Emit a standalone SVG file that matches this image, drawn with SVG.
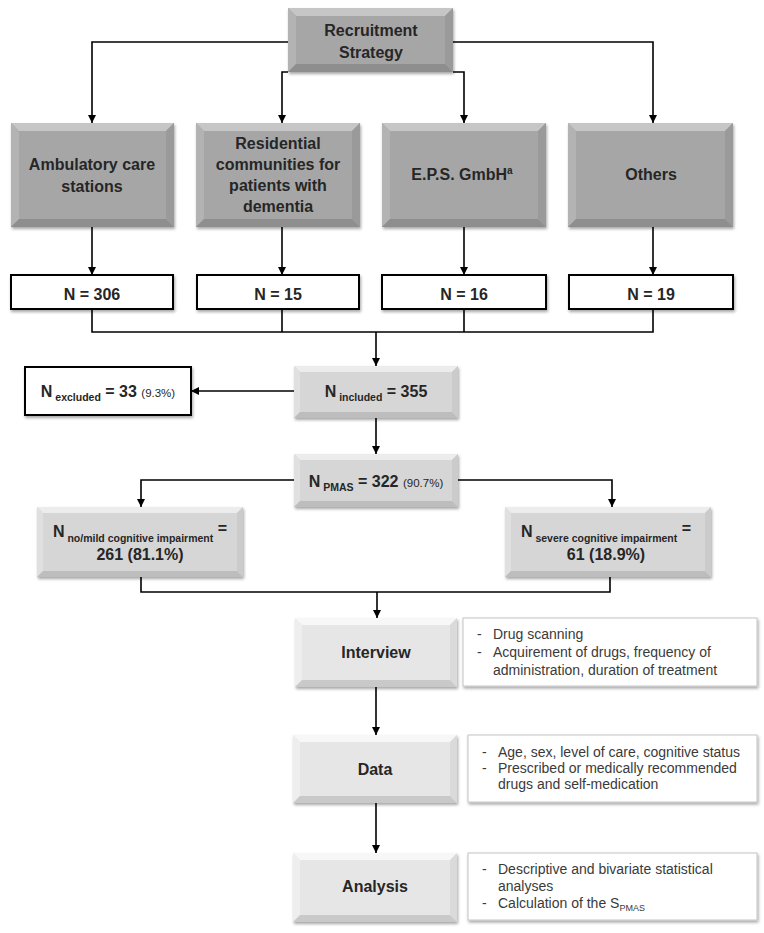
<svg xmlns="http://www.w3.org/2000/svg" width="764" height="933" viewBox="0 0 764 933">
<defs>
<marker id="ah" markerUnits="userSpaceOnUse" markerWidth="9" markerHeight="9" refX="8" refY="4" orient="auto">
<path d="M0,0 L8,4 L0,8 z" fill="#000"/>
</marker>
<filter id="sh" x="-10%" y="-10%" width="125%" height="135%">
<feDropShadow dx="1" dy="2" stdDeviation="1.5" flood-color="#000" flood-opacity="0.35"/>
</filter>
<style>
.lbl{font-family:"Liberation Sans",Arial,sans-serif;font-weight:bold;font-size:16px;fill:#262626;text-anchor:middle}
.sub{font-size:10.5px}
.pct{font-size:11.5px;font-weight:normal}
.note{font-family:"Liberation Sans",Arial,sans-serif;font-size:14px;fill:#3a3a3a}
.con{fill:none;stroke:#000;stroke-width:1.6}
.dk-f{fill:#a6a6a6}.dk-t{fill:#c6c6c6}.dk-l{fill:#b3b3b3}.dk-r{fill:#9a9a9a}.dk-b{fill:#8e8e8e}
.lt-f{fill:#d6d6d6}.lt-t{fill:#ececec}.lt-l{fill:#e0e0e0}.lt-r{fill:#cbcbcb}.lt-b{fill:#bdbdbd}
.xl-f{fill:#e6e6e6}.xl-t{fill:#f7f7f7}.xl-l{fill:#eeeeee}.xl-r{fill:#dadada}.xl-b{fill:#c9c9c9}
.wbox{fill:#fff;stroke:#000;stroke-width:2}
.nbox{fill:#fff;stroke:#c4c4c4;stroke-width:1}
</style>
</defs>
<rect width="764" height="933" fill="#fff"/>

<g id="connectors">
<path class="con" d="M288,42 H92 V123" marker-end="url(#ah)"/>
<path class="con" d="M453,42 H653 V123" marker-end="url(#ah)"/>
<path class="con" d="M288,72 H282 V123" marker-end="url(#ah)"/>
<path class="con" d="M453,72 H464 V123" marker-end="url(#ah)"/>
<path class="con" d="M92,227 V275" marker-end="url(#ah)"/>
<path class="con" d="M282,227 V275" marker-end="url(#ah)"/>
<path class="con" d="M464,227 V275" marker-end="url(#ah)"/>
<path class="con" d="M653,227 V275" marker-end="url(#ah)"/>
<path class="con" d="M92,309 V332 H653 V309 M282,309 V332 M464,309 V332"/>
<path class="con" d="M376,332 V366" marker-end="url(#ah)"/>
<path class="con" d="M294,391 H191" marker-end="url(#ah)"/>
<path class="con" d="M376,418 V454" marker-end="url(#ah)"/>
<path class="con" d="M294,480 H141 V507" marker-end="url(#ah)"/>
<path class="con" d="M458,480 H612 V507" marker-end="url(#ah)"/>
<path class="con" d="M141,577 V592 H610 V577"/>
<path class="con" d="M377,592 V618" marker-end="url(#ah)"/>
<path class="con" d="M376,687 V735" marker-end="url(#ah)"/>
<path class="con" d="M376,803 V853" marker-end="url(#ah)"/>
</g>

<g id="recruitment">
<g filter="url(#sh)"><rect class="dk-f" x="288" y="8" width="165" height="64"/></g>
<polygon class="dk-t" points="288,8 453,8 445,16 296,16"/>
<polygon class="dk-l" points="288,8 296,16 296,64 288,72"/>
<polygon class="dk-r" points="453,8 453,72 445,64 445,16"/>
<polygon class="dk-b" points="288,72 453,72 445,64 296,64"/>
<text class="lbl" x="371" y="36">Recruitment</text>
<text class="lbl" x="371" y="58">Strategy</text>
</g>

<g id="ambulatory">
<g filter="url(#sh)"><rect class="dk-f" x="11" y="123" width="163" height="104"/></g>
<polygon class="dk-t" points="11,123 174,123 166,131 19,131"/>
<polygon class="dk-l" points="11,123 19,131 19,219 11,227"/>
<polygon class="dk-r" points="174,123 174,227 166,219 166,131"/>
<polygon class="dk-b" points="11,227 174,227 166,219 19,219"/>
<text class="lbl" x="92" y="170">Ambulatory care</text>
<text class="lbl" x="92" y="192">stations</text>
</g>

<g id="residential">
<g filter="url(#sh)"><rect class="dk-f" x="196" y="123" width="164" height="104"/></g>
<polygon class="dk-t" points="196,123 360,123 352,131 204,131"/>
<polygon class="dk-l" points="196,123 204,131 204,219 196,227"/>
<polygon class="dk-r" points="360,123 360,227 352,219 352,131"/>
<polygon class="dk-b" points="196,227 360,227 352,219 204,219"/>
<text class="lbl" x="278" y="149">Residential</text>
<text class="lbl" x="278" y="170">communities for</text>
<text class="lbl" x="278" y="191">patients with</text>
<text class="lbl" x="278" y="212">dementia</text>
</g>

<g id="eps">
<g filter="url(#sh)"><rect class="dk-f" x="382" y="123" width="164" height="104"/></g>
<polygon class="dk-t" points="382,123 546,123 538,131 390,131"/>
<polygon class="dk-l" points="382,123 390,131 390,219 382,227"/>
<polygon class="dk-r" points="546,123 546,227 538,219 538,131"/>
<polygon class="dk-b" points="382,227 546,227 538,219 390,219"/>
<text class="lbl" x="462" y="180">E.P.S. GmbH<tspan font-size="10" dy="-6">a</tspan></text>
</g>

<g id="others">
<g filter="url(#sh)"><rect class="dk-f" x="568" y="123" width="165" height="104"/></g>
<polygon class="dk-t" points="568,123 733,123 725,131 576,131"/>
<polygon class="dk-l" points="568,123 576,131 576,219 568,227"/>
<polygon class="dk-r" points="733,123 733,227 725,219 725,131"/>
<polygon class="dk-b" points="568,227 733,227 725,219 576,219"/>
<text class="lbl" x="651" y="180">Others</text>
</g>

<g id="n306">
<rect class="wbox" x="11" y="275" width="162" height="34" filter="url(#sh)"/>
<text class="lbl" x="92" y="300">N = 306</text>
</g>
<g id="n15">
<rect class="wbox" x="197" y="275" width="162" height="34" filter="url(#sh)"/>
<text class="lbl" x="278" y="300">N = 15</text>
</g>
<g id="n16">
<rect class="wbox" x="382" y="275" width="164" height="34" filter="url(#sh)"/>
<text class="lbl" x="464" y="300">N = 16</text>
</g>
<g id="n19">
<rect class="wbox" x="569" y="275" width="164" height="34" filter="url(#sh)"/>
<text class="lbl" x="651" y="300">N = 19</text>
</g>

<g id="excluded">
<rect class="wbox" x="25" y="367" width="166" height="48" filter="url(#sh)"/>
<text class="lbl" x="108" y="397">N<tspan class="sub" dy="4"> excluded</tspan><tspan dy="-4"> = 33 </tspan><tspan class="pct">(9.3%)</tspan></text>
</g>

<g id="included">
<g filter="url(#sh)"><rect class="lt-f" x="294" y="366" width="164" height="52"/></g>
<polygon class="lt-t" points="294,366 458,366 452,372 300,372"/>
<polygon class="lt-l" points="294,366 300,372 300,412 294,418"/>
<polygon class="lt-r" points="458,366 458,418 452,412 452,372"/>
<polygon class="lt-b" points="294,418 458,418 452,412 300,412"/>
<text class="lbl" x="376" y="397">N<tspan class="sub" dy="4"> included</tspan><tspan dy="-4"> = 355</tspan></text>
</g>

<g id="pmas">
<g filter="url(#sh)"><rect class="lt-f" x="294" y="454" width="164" height="53"/></g>
<polygon class="lt-t" points="294,454 458,454 452,460 300,460"/>
<polygon class="lt-l" points="294,454 300,460 300,501 294,507"/>
<polygon class="lt-r" points="458,454 458,507 452,501 452,460"/>
<polygon class="lt-b" points="294,507 458,507 452,501 300,501"/>
<text class="lbl" x="376" y="487">N<tspan class="sub" dy="4"> PMAS</tspan><tspan dy="-4"> = 322 </tspan><tspan class="pct">(90.7%)</tspan></text>
</g>

<g id="mild">
<g filter="url(#sh)"><rect class="lt-f" x="37" y="507" width="206" height="70"/></g>
<polygon class="lt-t" points="37,507 243,507 237,513 43,513"/>
<polygon class="lt-l" points="37,507 43,513 43,571 37,577"/>
<polygon class="lt-r" points="243,507 243,577 237,571 237,513"/>
<polygon class="lt-b" points="37,577 243,577 237,571 43,571"/>
<text class="lbl" x="140" y="537">N<tspan class="sub" dy="5"> no/mild cognitive impairment</tspan><tspan dy="-8"> =</tspan></text>
<text class="lbl" x="140" y="560">261 (81.1%)</text>
</g>

<g id="severe">
<g filter="url(#sh)"><rect class="lt-f" x="505" y="507" width="206" height="70"/></g>
<polygon class="lt-t" points="505,507 711,507 705,513 511,513"/>
<polygon class="lt-l" points="505,507 511,513 511,571 505,577"/>
<polygon class="lt-r" points="711,507 711,577 705,571 705,513"/>
<polygon class="lt-b" points="505,577 711,577 705,571 511,571"/>
<text class="lbl" x="606" y="537">N<tspan class="sub" dy="5"> severe cognitive impairment</tspan><tspan dy="-8"> =</tspan></text>
<text class="lbl" x="606" y="560">61 (18.9%)</text>
</g>

<g id="interview">
<g filter="url(#sh)"><rect class="xl-f" x="295" y="618" width="162" height="69"/></g>
<polygon class="xl-t" points="295,618 457,618 450,625 302,625"/>
<polygon class="xl-l" points="295,618 302,625 302,680 295,687"/>
<polygon class="xl-r" points="457,618 457,687 450,680 450,625"/>
<polygon class="xl-b" points="295,687 457,687 450,680 302,680"/>
<text class="lbl" x="376" y="658">Interview</text>
</g>
<g id="interview-note">
<rect class="nbox" x="463" y="618" width="294" height="68" filter="url(#sh)"/>
<text class="note" x="477" y="639">-</text><text class="note" x="493" y="639">Drug scanning</text>
<text class="note" x="477" y="657">-</text><text class="note" x="493" y="657">Acquirement of drugs, frequency of</text>
<text class="note" x="493" y="675">administration, duration of treatment</text>
</g>

<g id="data">
<g filter="url(#sh)"><rect class="xl-f" x="293" y="735" width="164" height="68"/></g>
<polygon class="xl-t" points="293,735 457,735 450,742 300,742"/>
<polygon class="xl-l" points="293,735 300,742 300,796 293,803"/>
<polygon class="xl-r" points="457,735 457,803 450,796 450,742"/>
<polygon class="xl-b" points="293,803 457,803 450,796 300,796"/>
<text class="lbl" x="375" y="775">Data</text>
</g>
<g id="data-note">
<rect class="nbox" x="468" y="735" width="289" height="67" filter="url(#sh)"/>
<text class="note" x="482" y="757">-</text><text class="note" x="498" y="757">Age, sex, level of care, cognitive status</text>
<text class="note" x="482" y="773">-</text><text class="note" x="498" y="773">Prescribed or medically recommended</text>
<text class="note" x="498" y="789">drugs and self-medication</text>
</g>

<g id="analysis">
<g filter="url(#sh)"><rect class="xl-f" x="293" y="853" width="164" height="69"/></g>
<polygon class="xl-t" points="293,853 457,853 450,860 300,860"/>
<polygon class="xl-l" points="293,853 300,860 300,915 293,922"/>
<polygon class="xl-r" points="457,853 457,922 450,915 450,860"/>
<polygon class="xl-b" points="293,922 457,922 450,915 300,915"/>
<text class="lbl" x="375" y="892">Analysis</text>
</g>
<g id="analysis-note">
<rect class="nbox" x="468" y="853" width="289" height="67" filter="url(#sh)"/>
<text class="note" x="482" y="874">-</text><text class="note" x="498" y="874">Descriptive and bivariate statistical</text>
<text class="note" x="498" y="891">analyses</text>
<text class="note" x="482" y="908">-</text><text class="note" x="498" y="908">Calculation of the S<tspan font-size="9" dy="3">PMAS</tspan></text>
</g>
</svg>
